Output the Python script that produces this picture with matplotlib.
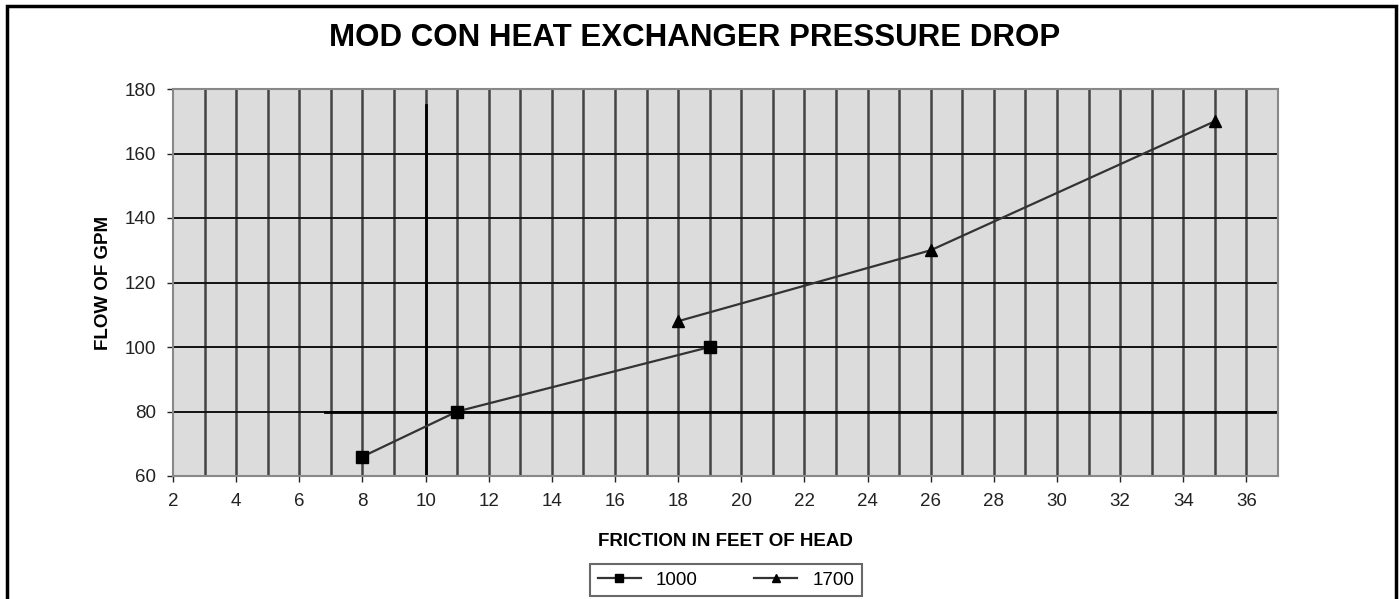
import matplotlib
matplotlib.use("Agg")
import matplotlib.pyplot as plt
from matplotlib.patches import Rectangle

# Datos
friccion_1000 = [8, 11, 19]
caudal_1000 = [66, 80, 100]
friccion_1700 = [18, 26, 35]
caudal_1700 = [108, 130, 170]
ticks_x = list(range(2, 37, 2))
ticks_y = list(range(60, 181, 20))

plt.rcParams['font.family'] = ['Liberation Sans', 'DejaVu Sans']

fig = plt.figure(figsize=(13.99, 5.99), dpi=100)
W, H = 1399, 599
ax = fig.add_axes([173 / W, 1 - 476 / H, (1278 - 173) / W, (476 - 89) / H])
ax.set_facecolor('#dcdcdc')
ax.set_xlim(2, 37)
ax.set_ylim(60, 180)

# cuadricula
for x in range(3, 37):
    ax.axvline(x, color='#444444', lw=1.8, zorder=1)
for y in ticks_y[1:-1]:
    ax.axhline(y, color='#111111', lw=1.4, zorder=1)

# lineas de referencia
ax.plot([10, 10], [60, 175], color='black', lw=2.0, zorder=2)
ax.plot([6.8, 37], [80, 80], color='black', lw=2.0, zorder=2)

ax.plot(friccion_1000, caudal_1000, color='#333333', lw=1.6, marker='s',
        markersize=8, markerfacecolor='black', markeredgecolor='black', zorder=3, label='1000')
ax.plot(friccion_1700, caudal_1700, color='#333333', lw=1.6, marker='^',
        markersize=8, markerfacecolor='black', markeredgecolor='black', zorder=3, label='1700')

ax.set_xticks(ticks_x)
ax.set_yticks(ticks_y)
ax.tick_params(labelsize=13.5, colors='#222222', length=4, width=1, pad=8)
for s in ax.spines.values():
    s.set_color('#888888')
    s.set_linewidth(1.5)

ax.set_xlabel('FRICTION IN FEET OF HEAD', fontsize=13.5, fontweight='bold', labelpad=17)
ax.set_ylabel('FLOW OF GPM', fontsize=13.5, fontweight='bold', labelpad=9)

fig.text(695 / W, 1 - 38 / H, 'MOD CON HEAT EXCHANGER PRESSURE DROP', ha='center', va='center',
         fontsize=22.5, fontweight='bold')

leg = ax.legend(loc='center', bbox_to_anchor=(726 / W, 1 - 580 / H), bbox_transform=fig.transFigure,
                ncol=2, fontsize=13.5, frameon=True, fancybox=False, edgecolor='#444444',
                handlelength=2.3, columnspacing=3.0, borderpad=0.4, markerscale=0.8)
leg.get_frame().set_linewidth(1.5)

# marco exterior
fig.patches.append(Rectangle((7 / W, -0.05), (1396 - 7) / W, 1 - 6 / H + 0.05, transform=fig.transFigure,
                             fill=False, edgecolor='black', lw=2.5))

fig.savefig('out.png', dpi=100)
